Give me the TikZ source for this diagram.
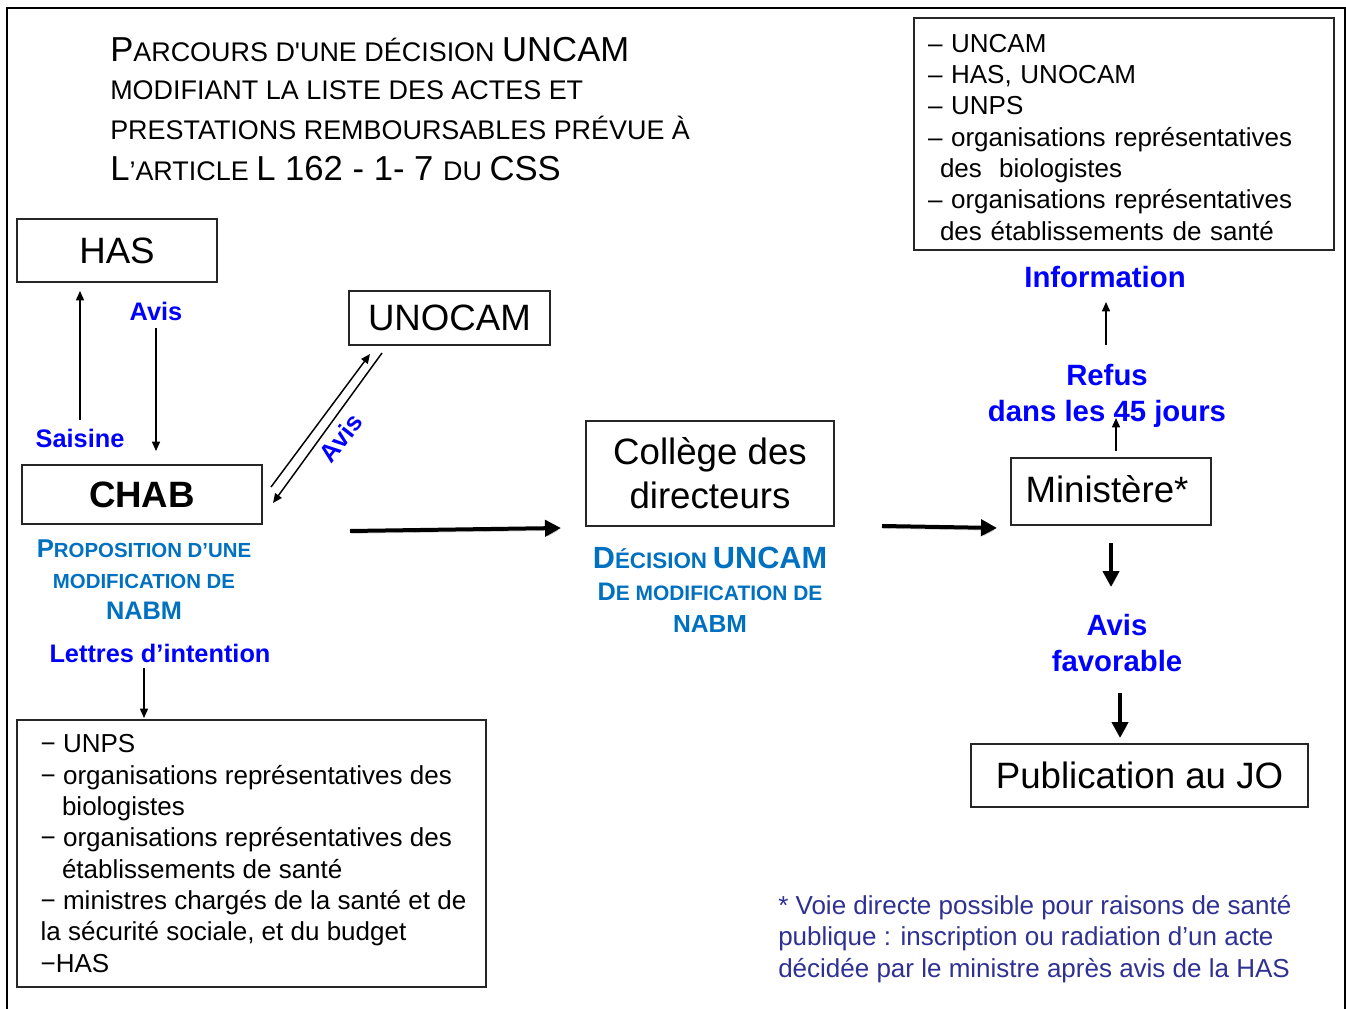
\documentclass[tikz,border=0pt]{standalone}
\usepackage{fontspec}
\setmainfont{Liberation Sans}
\usetikzlibrary{arrows.meta}
\definecolor{lblue}{RGB}{0,0,255}
\definecolor{sblue}{RGB}{0,112,192}
\definecolor{nblue}{RGB}{46,49,146}
\newcommand{\fsz}[2]{\fontsize{#1}{#2}\selectfont}
\newcommand{\tbig}[1]{{\fsz{26}{30}#1}}
\newcommand{\tsml}[1]{{\fsz{20.2}{30}#1}}
\tikzset{
  box/.style={draw=black!85, line width=0.9pt, inner sep=0pt, font=\fsz{27.5}{33}},
  listbox/.style={draw=black!85, line width=0.9pt, inner ysep=0pt, font=\fsz{19.5}{23.5}, align=left},
  blab/.style={text=lblue, font=\bfseries\fsz{19}{23}, inner sep=0pt},
  blabbig/.style={text=lblue, font=\bfseries\fsz{22}{26.5}, inner sep=0pt, align=center},
  slab/.style={text=sblue, inner sep=0pt, align=center},
  ttl/.style={anchor=base west, inner sep=0pt},
  thin arrow/.style={line width=1.1pt, -{Triangle[length=7pt,width=6pt]}},
  thick arrow/.style={line width=3pt, -{Triangle[length=12pt,width=12pt]},
    preaction={draw=black!22, transform canvas={xshift=0.8pt,yshift=-1.8pt}}},
}
\begin{document}
\begin{tikzpicture}[x=0.75pt,y=-0.75pt]
\useasboundingbox (0,0) rectangle (1346,1009);
\fill[white] (0,0) rectangle (1346,1009);
% frame
\draw[line width=1.9pt] (7,1009) -- (7,8) -- (1345,8) -- (1345,1009);

% title
\node[ttl] (t1) at (110,62) {\tbig{P}\tsml{ARCOURS D\textquotesingle UNE DÉCISION }\tbig{UNCAM}};
\node[ttl] (t2) at (110,100) {\tsml{MODIFIANT LA LISTE DES ACTES ET}};
\node[ttl] (t3) at (110,140) {\tsml{PRESTATIONS REMBOURSABLES PRÉVUE À}};
\node[ttl] (t4) at (110,181) {\tbig{L}\tsml{’ARTICLE }\tbig{L 162 - 1- 7 }\tsml{DU }\tbig{CSS}};

% boxes
\node[box, minimum width=150pt, minimum height=47.25pt] (has) at (117,250.5) {HAS};
\node[box, minimum width=150.75pt, minimum height=40.5pt] (unocam) at (449.5,318) {UNOCAM};
\node[box, minimum width=180pt, minimum height=44.25pt, font=\bfseries\fsz{27.5}{33}] (chab) at (142,494.5) {CHAB};
\node[box, minimum width=186pt, minimum height=78.75pt, align=center] (college) at (710,473.5) {Collège des\\directeurs};
\node[box, minimum width=150pt, minimum height=50.25pt, text depth=4pt] (min) at (1111,491.5) {Ministère*\hspace*{6pt}};
\node[box, minimum width=252.75pt, minimum height=47.25pt] (pub) at (1139.5,775.5) {Publication au JO};

\node[listbox, minimum width=315pt, minimum height=174pt, text width=294pt, inner xsep=10.5pt] (info box) at (1124,134)
  {\rule{0pt}{18.5pt}– UNCAM\\– HAS, UNOCAM\\– UNPS\\– organisations représentatives\\\hspace*{9pt}des\ \ biologistes\\– organisations représentatives\\\hspace*{9pt}des établissements de santé};

\node[listbox, minimum width=351.75pt, minimum height=200.25pt, inner xsep=0pt] (lettres box) at (251.5,853.5)
  {\hspace*{3pt}− UNPS\\\hspace*{3pt}− organisations représentatives des\\\hspace*{19pt}biologistes\\\hspace*{3pt}− organisations représentatives des\\\hspace*{19pt}établissements de santé\\\hspace*{3pt}− ministres chargés de la santé et de\\\hspace*{3pt}la sécurité sociale, et du budget\\\hspace*{3pt}−HAS};

% blue labels
\node[blab] (avis1) at (156,311) {Avis};
\node[blab] (saisine) at (80,438) {Saisine};
\node[blab, rotate=52] (avis2) at (341,438) {Avis};
\node[blab] (lettres) at (160,653) {Lettres d’intention};
\node[blabbig] (information) at (1105,277) {Information};
\node[blabbig] (refus) at (1107,396) {Refus\\dans les 45 jours};
\node[blabbig, font=\bfseries\fsz{22}{27}] (favorable) at (1117,643) {Avis\\favorable};

\node[slab, font=\bfseries\fsz{15.3}{23.25}] (proposition) at (144,580)
  {{\fsz{19.3}{23.25}P}ROPOSITION D’UNE\\MODIFICATION DE\\{\fsz{19}{23.25}NABM}};
\node[slab, font=\bfseries\fsz{15.7}{24}] (decision) at (710,590)
  {{\fsz{23}{24}D}{\fsz{16.8}{24}ÉCISION} {\fsz{23}{24}UNCAM}\\{\fsz{19}{24}D}E MODIFICATION DE\\{\fsz{18.5}{24}NABM}};

% footnote
\node[anchor=base west, inner sep=0pt, align=left, text=nblue, font=\fsz{19.5}{23.6}] (note) at (778,977)
  {* Voie directe possible pour raisons de santé\\publique : inscription ou radiation d’un acte\\décidée par le ministre après avis de la HAS};

% connector end points
\coordinate (sa1) at (80,420);   \coordinate (sa2) at (80,291);
\coordinate (av1) at (156,328);  \coordinate (av2) at (156,451);
\coordinate (un1) at (271,487);  \coordinate (un2) at (370,354);
\coordinate (un3) at (382,353);  \coordinate (un4) at (273,503);
\coordinate (cc1) at (350,531);  \coordinate (cc2) at (561,528);
\coordinate (cm1) at (882,526);  \coordinate (cm2) at (997,528);
\coordinate (mr1) at (1116,451); \coordinate (mr2) at (1116,418);
\coordinate (ri1) at (1106,345); \coordinate (ri2) at (1106,302);
\coordinate (ma1) at (1111,543); \coordinate (ma2) at (1111,587);
\coordinate (ap1) at (1120,693); \coordinate (ap2) at (1120,738);
\coordinate (lb1) at (144,668);  \coordinate (lb2) at (144,718);

\draw[thin arrow] (sa1) -- (sa2);
\draw[thin arrow] (av1) -- (av2);
\draw[thin arrow] (un1) -- (un2);
\draw[thin arrow] (un3) -- (un4);
\draw[thin arrow] (mr1) -- (mr2);
\draw[thin arrow] (ri1) -- (ri2);
\draw[thin arrow] (lb1) -- (lb2);
\draw[thick arrow] (cc1) -- (cc2);
\draw[thick arrow] (cm1) -- (cm2);
\draw[thick arrow] (ma1) -- (ma2);
\draw[thick arrow] (ap1) -- (ap2);
\end{tikzpicture}
\end{document}
